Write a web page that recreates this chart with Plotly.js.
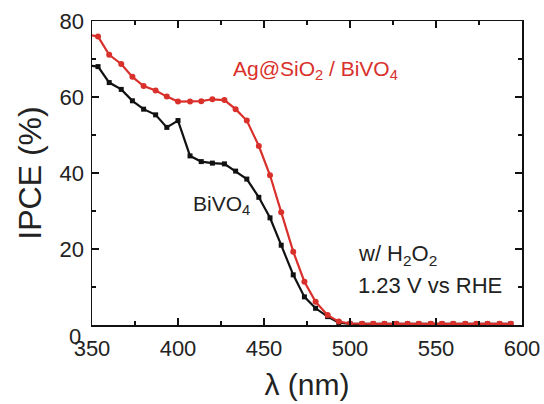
<!DOCTYPE html>
<html>
<head>
<meta charset="utf-8">
<script src="https://cdn.plot.ly/plotly-3.0.1.min.js"></script>
<style>html,body{margin:0;padding:0;background:#fff;}#chart{width:544px;height:404px;}</style>
</head>
<body>
<div id="chart"></div>
<script>
const wavelength = [347, 353.5, 360, 367, 373.5, 380, 387, 393.5, 400, 407, 413.5, 420, 427, 433.5, 440, 447, 453.5, 460, 467, 473.5, 480, 487, 493.5, 500, 507, 513.5, 520, 527, 533.5, 540, 547, 553.5, 560, 567, 573.5, 580, 587, 593.5];
const ipceAgSiO2 = [76.5, 75.9, 71.1, 68.7, 65.3, 62.9, 61.7, 60.1, 58.8, 58.8, 58.9, 59.4, 59.2, 56.8, 53.8, 47.1, 39.4, 29.7, 19.3, 11.4, 6.1, 2.6, 0.9, 0.4, 0.3, 0.3, 0.3, 0.3, 0.3, 0.3, 0.3, 0.3, 0.3, 0.3, 0.3, 0.3, 0.3, 0.3];
const ipceBiVO4 = [68.4, 68.0, 63.8, 62.0, 59.0, 56.8, 55.3, 52.0, 53.8, 44.5, 43.0, 42.6, 42.4, 40.5, 38.4, 33.6, 28.2, 21.0, 13.2, 7.4, 4.4, 2.2, 0.6, 0.3, 0.3, 0.3, 0.3, 0.3, 0.3, 0.3, 0.3, 0.3, 0.3, 0.3, 0.3, 0.3, 0.3, 0.3];
const xTicks = [350, 400, 450, 500, 550, 600];
const yTicks = [0, 20, 40, 60, 80];

const FONT = 'Arial, "Liberation Sans", Helvetica, sans-serif';

const traces = [
  {x: wavelength, y: ipceBiVO4, type: 'scatter', mode: 'lines+markers',
   line: {color: '#111111', width: 2.2}, marker: {symbol: 'square', size: 5, color: '#111111'}},
  {x: wavelength, y: ipceAgSiO2, type: 'scatter', mode: 'lines+markers',
   line: {color: '#d9302b', width: 2.2}, marker: {symbol: 'circle', size: 6, color: '#d9302b'}}
];

const axisCommon = {
  showgrid: false, zeroline: false, showline: true, linecolor: '#111', linewidth: 1.5,
  mirror: 'allticks', ticks: 'inside', ticklen: 7, tickwidth: 1.5, tickcolor: '#111',
  tickfont: {family: FONT, size: 22, color: '#222'}
};

const layout = {
  width: 544, height: 404,
  margin: {l: 92, r: 22, t: 21, b: 79},
  paper_bgcolor: '#fff', plot_bgcolor: '#fff',
  showlegend: false,
  font: {family: FONT, color: '#222'},
  xaxis: Object.assign({}, axisCommon, {
    range: [350, 600], tickvals: xTicks, ticktext: xTicks.map(String), ticklabelstandoff: 3,
    minor: {dtick: 25, tick0: 350, ticks: 'inside', ticklen: 4, tickwidth: 1.5, tickcolor: '#111'},
    title: {text: 'λ (nm)', font: {family: FONT, size: 30, color: '#222'}, standoff: 14}
  }),
  yaxis: Object.assign({}, axisCommon, {
    range: [0, 80], tickvals: yTicks, ticktext: yTicks.map(v => v === 0 ? '' : String(v)), ticklabelstandoff: 2,
    minor: {dtick: 10, tick0: 0, ticks: 'inside', ticklen: 4, tickwidth: 1.5, tickcolor: '#111'},
    title: {text: 'IPCE (%)', font: {family: FONT, size: 32, color: '#222'}, standoff: 8}
  }),
  annotations: [
    {x: 0, y: 0, xref: 'paper', yref: 'y', xanchor: 'right', yanchor: 'middle', xshift: -9, yshift: -11,
     showarrow: false, text: String(yTicks[0]), font: {family: FONT, size: 22, color: '#222'}},
    {x: 431, y: 67, xref: 'x', yref: 'y', xanchor: 'left', yanchor: 'middle', showarrow: false,
     text: 'Ag@SiO<sub>2</sub> / BiVO<sub>4</sub>', font: {family: FONT, size: 21, color: '#d9302b'}},
    {x: 407.5, y: 31.5, xref: 'x', yref: 'y', xanchor: 'left', yanchor: 'middle', showarrow: false,
     text: 'BiVO<sub>4</sub>', font: {family: FONT, size: 21, color: '#222'}},
    {x: 503.5, y: 18.5, xref: 'x', yref: 'y', xanchor: 'left', yanchor: 'middle', showarrow: false,
     text: 'w/ H<sub>2</sub>O<sub>2</sub>', font: {family: FONT, size: 22, color: '#222'}},
    {x: 503.5, y: 10.4, xref: 'x', yref: 'y', xanchor: 'left', yanchor: 'middle', showarrow: false,
     text: '1.23 V vs RHE', font: {family: FONT, size: 22, color: '#222'}}
  ]
};

Plotly.newPlot('chart', traces, layout, {displayModeBar: false, staticPlot: true});
</script>
</body>
</html>
